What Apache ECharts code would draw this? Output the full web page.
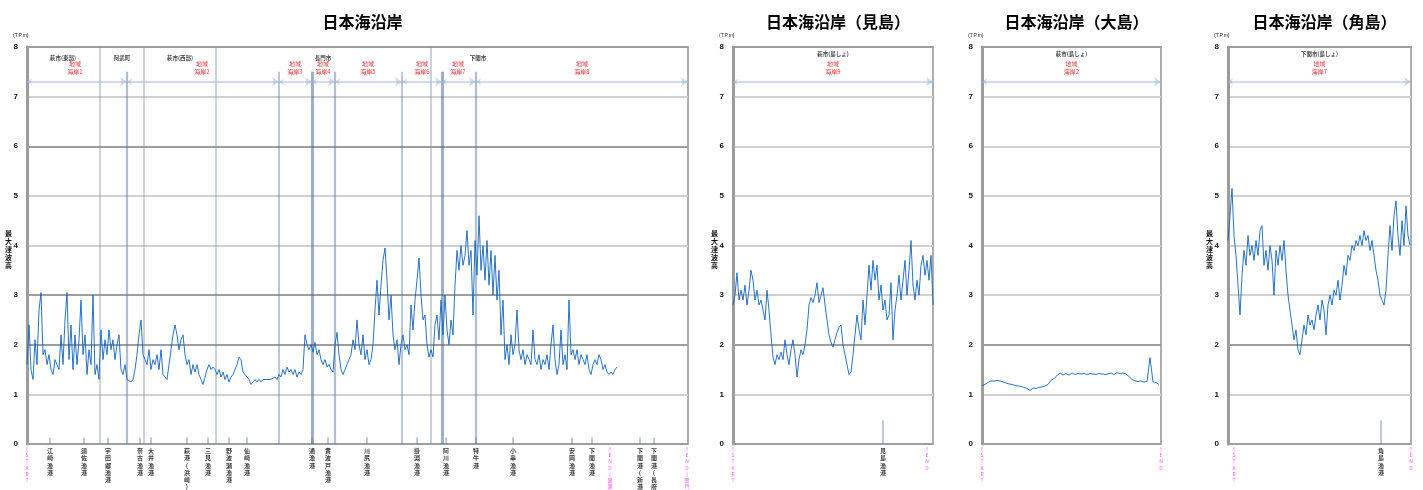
<!DOCTYPE html>
<html><head><meta charset="utf-8">
<script src="https://cdn.jsdelivr.net/npm/echarts@6/dist/echarts.min.js"></script>
<style>html,body{margin:0;padding:0;background:#fff}#c{width:1423px;height:490px}</style>
</head><body><div id="c"></div>
<script>
// ---------- DATA ----------
const yTicks = [0,1,2,3,4,5,6,7,8];

// main coast (日本海沿岸) maximum tsunami height, sampled every 2 distance units
const mainValues = [
1.6,2.4,1.5,1.3,2.1,1.6,2.7,3.05,1.8,1.9,1.6,1.8,1.5,1.4,1.7,1.6,1.5,2.2,1.6,2.5,
3.05,1.7,2.4,1.5,2.2,1.6,2.1,2.9,1.8,2.2,1.4,1.9,1.6,3.0,1.4,1.6,1.3,2.3,1.7,2.1,
1.8,2.3,1.9,2.1,1.7,2.0,2.2,1.5,1.4,1.6,1.3,1.3,1.25,1.3,1.5,1.8,2.2,2.5,1.8,1.7,
1.6,1.9,1.5,1.7,1.6,1.8,1.5,1.9,1.4,1.35,1.3,1.6,1.9,2.2,2.4,2.2,1.9,2.1,2.2,1.8,
1.6,1.7,1.4,1.6,1.45,1.6,1.4,1.3,1.2,1.35,1.5,1.6,1.5,1.55,1.5,1.4,1.5,1.35,1.45,1.3,
1.4,1.25,1.35,1.4,1.5,1.6,1.75,1.7,1.45,1.4,1.35,1.3,1.2,1.25,1.3,1.25,1.3,1.25,1.3,1.28,
1.3,1.27,1.3,1.28,1.35,1.3,1.4,1.35,1.5,1.4,1.55,1.45,1.5,1.4,1.5,1.35,1.45,1.4,1.5,2.2,
2.0,1.9,2.0,1.85,2.05,1.8,1.9,1.7,1.6,1.7,1.55,1.6,1.5,1.45,2.0,2.25,1.8,1.5,1.4,1.5,
1.6,1.7,1.8,2.1,1.9,2.5,2.0,1.8,2.2,1.7,1.9,1.6,1.7,2.0,2.7,3.3,2.6,3.2,3.7,3.95,
3.3,2.5,3.0,2.2,1.9,2.1,1.6,2.0,2.2,1.9,2.0,1.8,2.8,2.3,2.9,3.3,3.75,3.0,2.5,2.6,
2.0,1.75,1.9,1.75,2.4,2.6,2.1,2.9,2.2,3.0,2.3,2.0,2.5,2.2,3.2,3.9,3.5,4.0,3.6,3.8,
4.3,3.6,3.9,2.6,4.1,3.4,4.6,3.5,4.0,3.3,4.1,3.2,3.9,3.0,3.8,2.9,3.5,2.2,2.9,1.7,
2.0,1.6,2.2,1.8,2.0,2.7,1.9,1.7,1.9,1.6,1.8,1.7,1.6,2.3,1.7,1.6,1.8,1.5,1.7,1.6,
1.8,1.5,2.0,2.4,1.7,1.4,1.6,2.3,1.6,1.8,1.5,2.9,1.8,1.9,1.7,1.9,1.6,1.8,1.7,1.6,
1.8,1.5,1.4,1.6,1.7,1.6,1.8,1.7,1.5,1.6,1.45,1.4,1.45,1.4,1.5,1.55
];
// 見島
const mishimaValues = [
2.8,3.0,3.45,2.9,3.1,2.9,3.2,2.8,3.1,3.5,3.3,2.9,3.1,2.8,2.9,2.7,2.5,3.1,2.7,2.2,
1.75,1.6,1.8,1.7,1.85,1.7,2.1,1.8,1.6,1.9,2.1,1.8,1.35,1.7,1.9,1.8,2.0,2.3,2.8,2.95,
2.85,3.0,3.25,2.85,3.0,3.15,2.8,2.5,2.2,2.05,1.95,2.1,2.25,2.35,2.4,2.0,1.8,1.6,1.4,1.45,
1.8,2.2,2.6,2.3,2.1,2.9,2.4,3.0,3.6,3.1,3.7,3.3,3.6,2.9,3.2,2.7,2.9,2.5,2.6,3.25,
2.1,2.7,3.0,3.4,2.9,3.3,3.7,3.0,3.5,4.1,3.2,2.9,3.3,3.0,3.6,3.8,3.4,3.7,3.3,3.8,2.8
];
// 大島
const oshimaValues = [
1.18,1.2,1.24,1.27,1.27,1.28,1.27,1.25,1.23,1.21,1.2,1.18,1.17,1.16,1.14,1.12,1.08,1.13,1.12,1.14,
1.15,1.17,1.2,1.28,1.32,1.38,1.43,1.39,1.42,1.39,1.43,1.4,1.42,1.41,1.42,1.4,1.42,1.41,1.4,1.42,
1.41,1.4,1.41,1.43,1.4,1.44,1.42,1.43,1.41,1.36,1.3,1.27,1.26,1.27,1.25,1.26,1.74,1.25,1.24,1.2
];
// 角島
const tsunoshimaValues = [
4.1,4.6,5.15,4.2,3.8,3.2,2.6,3.4,3.9,3.6,4.2,3.8,4.0,3.7,4.1,3.8,4.3,4.4,3.6,3.9,
3.5,4.0,3.7,3.0,3.9,3.6,4.0,3.7,4.1,3.5,3.0,2.7,2.4,2.1,2.3,1.9,1.8,2.1,2.4,2.2,
2.6,2.4,2.5,2.3,2.6,2.8,2.5,2.9,2.7,2.2,2.8,3.0,2.8,3.1,3.0,3.3,2.9,3.2,3.6,3.4,
3.8,3.7,4.0,3.9,4.1,4.0,4.2,4.0,4.3,4.1,4.2,3.9,4.1,3.8,3.5,3.3,3.0,2.9,2.8,3.1,
3.8,4.4,3.9,4.6,4.9,4.2,3.8,4.5,4.0,4.8,4.2,4.0
];

// annotations (distance along coast, same units as the x axis)
const mainCityLines = [73,117,189,404];
const mainZoneEdges = [0,100,252,285,308,375,415,449,661];
const mainZoneNames = ['地域\n海岸1','地域\n海岸2','地域\n海岸3','地域\n海岸4','地域\n海岸5','地域\n海岸6','地域\n海岸7','地域\n海岸8'];
const mainZoneLabelX = [48,175,268,296,341,395,431,555];
const mainCities = ['萩市(東部)','阿武町','萩市(西部)','長門市','下関市'];
const mainCityX = [36,95,153,296,451];
const mainPorts = ['江崎漁港','須佐漁港','宇田郷漁港','奈古漁港','大井漁港','萩港(浜崎)','三見漁港','野波瀬漁港','仙崎漁港','通漁港','黄波戸漁港','川尻漁港','掛淵漁港','阿川漁港','特牛港','小串漁港','安岡漁港','下関漁港','下関港(新港地区)','下関港(長府)'];
const mainPortX = [23,57,81,113,124,160,181,202,220,285,301,340,390,419,449,486,545,565,613,627];
const mainMarkers = ['↑START','↑END(響灘側)','↑END(関門側)'];
const mainMarkerX = [0,583,660];

const islandCities = ['萩市(島しょ)','萩市(島しょ)','下関市(島しょ)'];
const islandZones = ['地域\n海岸9','地域\n海岸2','地域\n海岸7'];
const islandPorts = [['見島漁港'],[],['角島漁港']];
const islandPortX = [[150],[],[153]];
const islandMarkers = [['↑START','↑END'],['↑START','↑END'],['↑START','↑END']];
const islandMarkerX = [[0,194],[0,179],[6,183]];

// ---------- BUILD ----------
const TOP = 47, H = 397;
const panels = [
  {title:'日本海沿岸', left:27, width:661, step:2, values:mainValues, ylab:true, dark:[0,2,3,6,8]},
  {title:'日本海沿岸（見島）', left:733, width:200, step:2, values:mishimaValues, ylab:true, dark:[0,2,8]},
  {title:'日本海沿岸（大島）', left:982, width:179, step:3, values:oshimaValues, ylab:false, dark:[0,2,8]},
  {title:'日本海沿岸（角島）', left:1228, width:183, step:2, values:tsunoshimaValues, ylab:true, dark:[0,2,8]}
];

const grids=[], xAxes=[], yAxes=[], series=[], titles=[], graphics=[];
const vtext = s => s.split('').join('\n');

panels.forEach((p, gi) => {
  grids.push({left:p.left, top:TOP, width:p.width, height:H, show:true, borderColor:'#aeaeae', borderWidth:2, containLabel:false});
  xAxes.push({type:'value', gridIndex:gi, min:0, max:p.width, show:false});
  yAxes.push({type:'value', gridIndex:gi, min:0, max:8, interval:1,
    axisLine:{show:true, lineStyle:{color:'#9c9c9c', width:3}},
    axisTick:{show:false},
    axisLabel:{fontSize:8, fontWeight:'bold', color:'#111', margin:9, fontFamily:'Liberation Sans'},
    splitLine:{show:true, lineStyle:{width:2, color: yTicks.map(t => p.dark.includes(t) ? '#9e9e9e' : '#d0d0d0')}}
  });
  titles.push({text:p.title, left:p.left + p.width/2, textAlign:'center', top:9,
    textStyle:{fontSize:16, fontWeight:'bold', color:'#000', fontFamily:'Noto Sans CJK JP'}});
  graphics.push({type:'text', left:p.left-14, top:33, style:{text:'(T.P.m)', fontSize:5, fill:'#222', fontFamily:'Liberation Sans'}});
  if (p.ylab) graphics.push({type:'text', left:p.left-22, top:229, style:{text:vtext('最大津波高'), fontSize:7, lineHeight:8, fontWeight:'bold', fill:'#111', fontFamily:'Noto Sans CJK JP'}});

  series.push({type:'line', xAxisIndex:gi, yAxisIndex:gi, showSymbol:false, symbol:'none', z:5,
    lineStyle:{color:'rgba(18,100,192,0.9)', width:1}, animation:false,
    data:p.values.map((v,k)=>[k*p.step, v])});
});

const lf = {fontFamily:'Noto Sans CJK JP'};
function addLines(gi, items, extra){
  series.push(Object.assign({type:'lines', coordinateSystem:'cartesian2d', xAxisIndex:gi, yAxisIndex:gi, z:4, silent:true, animation:false, data:items}, extra||{}));
}
function addLabels(gi, items, label){
  series.push({type:'scatter', xAxisIndex:gi, yAxisIndex:gi, symbolSize:0, z:6, silent:true, animation:false, clip:false,
    data:items, label:Object.assign({show:true, formatter:'{b}'}, label)});
}

// ---- main panel annotations ----
const zoneThick = {285:3, 415:3, 100:2.2, 449:2.2, 308:2.2};
addLines(0, mainCityLines.map(x=>({coords:[[x,0],[x,8]], lineStyle:{color:'#7d8fae', width:1.6}})));
addLines(0, mainZoneEdges.slice(1,-1).map(x=>({coords:[[x,0],[x,7.5]], lineStyle:{color: zoneThick[x]>=3?'#3a5f9c':'#5f7dab', width: zoneThick[x]||1.7}})));
addLines(0, mainZoneEdges.slice(0,-1).map((x,k)=>({coords:[[x,7.3],[mainZoneEdges[k+1],7.3]]})),
  {symbol:['arrow','arrow'], symbolSize:[5,7], lineStyle:{color:'#9fb6d8', width:1.8}});
addLines(0, mainPortX.map(x=>({coords:[[x,0],[x,0.13]]})), {lineStyle:{color:'#4a6fa5', width:1.5}});
addLabels(0, mainCities.map((n,k)=>({name:n, value:[mainCityX[k],7.78]})), Object.assign({position:'inside', fontSize:5.5, fontWeight:'bold', color:'#111'}, lf));
addLabels(0, mainZoneNames.map((n,k)=>({name:n, value:[mainZoneLabelX[k],7.58]})), Object.assign({position:'inside', fontSize:6, lineHeight:8, color:'#ee0000'}, lf));
addLabels(0, mainPorts.map((n,k)=>({name:vtext(n), value:[mainPortX[k],0]})), Object.assign({position:'bottom', distance:3, fontSize:6, lineHeight:7.3, fontWeight:'bold', color:'#000', align:'center'}, lf));
addLabels(0, mainMarkers.map((n,k)=>({name:vtext(n), value:[mainMarkerX[k],0]})), Object.assign({position:'bottom', distance:2, fontSize:5, lineHeight:6.2, color:'#ff33ff', align:'center'}, lf));

// ---- island panels ----
[1,2,3].forEach((gi, k) => {
  const w = panels[gi].width;
  addLines(gi, [{coords:[[0,7.3],[w,7.3]]}], {symbol:['arrow','arrow'], symbolSize:[5,7], lineStyle:{color:'#9fb6d8', width:1.8}});
  addLines(gi, islandPortX[k].map(x=>({coords:[[x,0],[x,0.48]]})), {lineStyle:{color:'#4a6fa5', width:1.5}});
  addLabels(gi, [{name:islandCities[k], value:[w/2,7.86]}], Object.assign({position:'inside', fontSize:5.5, fontWeight:'bold', color:'#111'}, lf));
  addLabels(gi, [{name:islandZones[k], value:[w/2,7.58]}], Object.assign({position:'inside', fontSize:6, lineHeight:8, color:'#ee0000'}, lf));
  addLabels(gi, islandPorts[k].map((n,j)=>({name:vtext(n), value:[islandPortX[k][j],0]})), Object.assign({position:'bottom', distance:3, fontSize:6, lineHeight:7.3, fontWeight:'bold', color:'#000', align:'center'}, lf));
  addLabels(gi, islandMarkers[k].map((n,j)=>({name:vtext(n), value:[islandMarkerX[k][j],0]})), Object.assign({position:'bottom', distance:2, fontSize:5, lineHeight:6.2, color:'#ff33ff', align:'center'}, lf));
});

const chart = echarts.init(document.getElementById('c'));
chart.setOption({
  animation:false,
  backgroundColor:'#fff',
  title:titles, grid:grids, xAxis:xAxes, yAxis:yAxes, series:series, graphic:graphics
});
</script></body></html>
